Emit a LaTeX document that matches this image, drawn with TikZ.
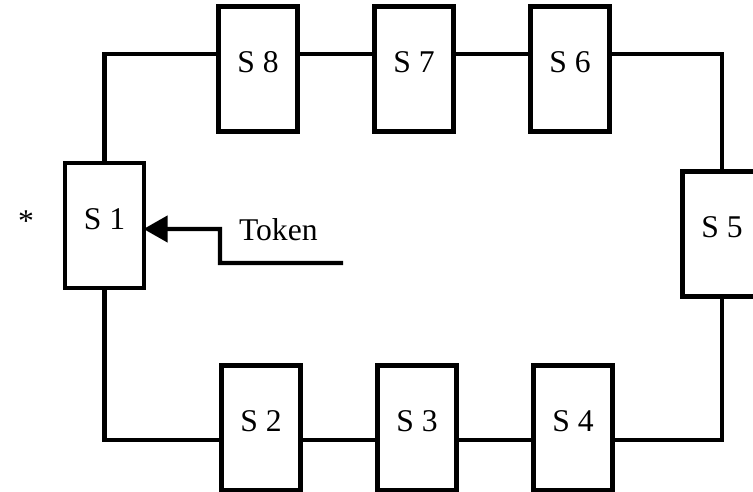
\documentclass[tikz,border=0pt]{standalone}
\usepackage{fontspec}
\setmainfont{Liberation Serif}
\usetikzlibrary{arrows.meta, positioning}

\begin{document}
\begin{tikzpicture}[line width=2.3pt, node distance=3.12cm,
 font=\fontsize{18}{22}\selectfont,
 station/.style={rectangle, draw, fill=white, minimum width=1.58cm,
  minimum height=2.5cm, text height=12.5pt, text depth=8.5pt}]
  \useasboundingbox (0,0) rectangle (15.06,9.84);

  \node[station] (s1) at (2.09,5.33) {S 1};
  \node[station] (s8) at (5.16,8.46) {S 8};
  \node[station] (s7) [right of=s8] {S 7};
  \node[station] (s6) [right of=s7] {S 6};
  \node[station] (s5) at (14.44,5.16) {S 5};
  \node[station] (s2) at (5.22,1.28) {S 2};
  \node[station] (s3) [right of=s2] {S 3};
  \node[station] (s4) [right of=s3] {S 4};

  % ring
  \draw (s1.north) |- ([yshift=3mm]s8.west);
  \foreach \s/\t in {s8/s7, s7/s6} {
   \draw ([yshift=3mm]\s.east) -- ([yshift=3mm]\t.west);}
  \draw ([yshift=3mm]s6.east) -| (s5.north);
  \draw (s1.south) |- ([yshift=-2.4mm]s2.west);
  \foreach \s/\t in {s2/s3, s3/s4} {
   \draw ([yshift=-2.4mm]\s.east) -- ([yshift=-2.4mm]\t.west);}
  \draw ([yshift=-2.4mm]s4.east) -| (s5.south);

  % token
  \coordinate (tokenend) at (6.86,4.58);
  \coordinate (bend) at (4.4,5.26);
  \draw[-{Triangle[length=4.8mm,width=5.2mm]}] (tokenend) -| (bend)
   -- ([xshift=-0.5mm,yshift=-0.7mm]s1.east);
  \node[anchor=base west, inner sep=0pt] (token) at (4.74,5.02) {Token};
  \node[anchor=base, inner sep=0pt] (star) at (0.52,5.2) {*};
\end{tikzpicture}
\end{document}
